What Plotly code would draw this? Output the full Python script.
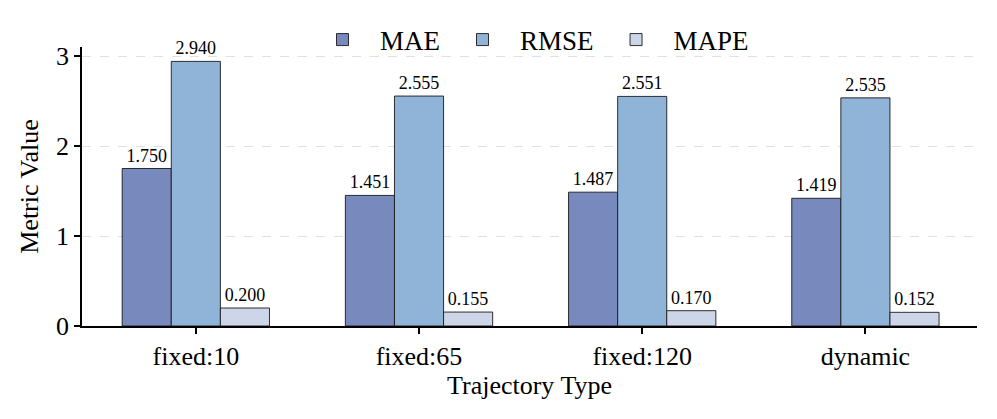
import plotly.graph_objects as go

categories = ["fixed:10", "fixed:65", "fixed:120", "dynamic"]
series_names = ["MAE", "RMSE", "MAPE"]
mae = [1.750, 1.451, 1.487, 1.419]
rmse = [2.940, 2.555, 2.551, 2.535]
mape = [0.200, 0.155, 0.170, 0.152]
colors = ["#7889BD", "#90B3D8", "#CDD5E8"]

FONT = "Liberation Serif"
fig = go.Figure()
for name, vals, col in zip(series_names, [mae, rmse, mape], colors):
    fig.add_trace(go.Bar(
        x=categories, y=vals, name=name,
        marker=dict(color=col, line=dict(color="#1a1a1a", width=0.9)),
        text=[f"{v:.3f}" for v in vals], textposition="outside",
        textfont=dict(family=FONT, size=18, color="black"),
        cliponaxis=False, textangle=0,
    ))

fig.update_layout(
    width=997, height=419,
    margin=dict(l=74, r=28, t=39, b=101, autoexpand=False),
    plot_bgcolor="white", paper_bgcolor="white",
    barmode="group", bargap=0.34, bargroupgap=0,
    font=dict(family=FONT, size=24, color="black"),
    legend=dict(orientation="h", x=0.5, xanchor="center", y=1.025, yanchor="middle",
                bgcolor="rgba(0,0,0,0)", font=dict(family=FONT, size=27),
                itemwidth=65, traceorder="normal"),
    xaxis=dict(
        title=dict(text="Trajectory Type", font=dict(family=FONT, size=26), standoff=2),
        showline=True, linecolor="black", linewidth=1.5,
        ticks="outside", ticklen=6, tickwidth=1.5, tickcolor="black",
        tickfont=dict(family=FONT, size=26), range=[-0.51, 3.5],
    ),
    yaxis=dict(
        title=dict(text="Metric Value", font=dict(family=FONT, size=26), standoff=10),
        range=[0, 3.1], tickvals=[0, 1, 2, 3],
        showline=True, linecolor="black", linewidth=1.5,
        ticks="outside", ticklen=6, tickwidth=1.5, tickcolor="black",
        tickfont=dict(family=FONT, size=26),
        showgrid=True, gridcolor="#e0e0e0", griddash="dash", gridwidth=1,
        zeroline=False,
    ),
)
fig.write_html("out.html")
